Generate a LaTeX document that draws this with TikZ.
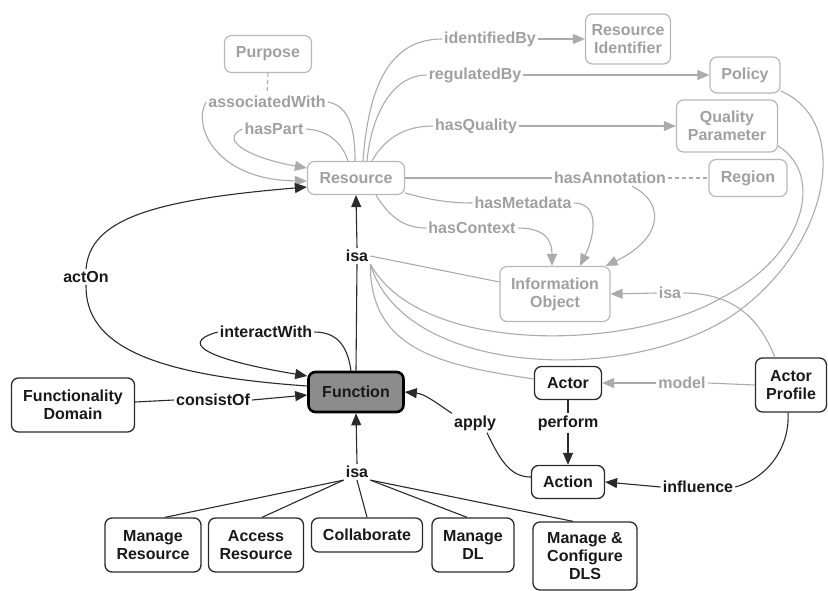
\documentclass[tikz,border=0pt]{standalone}
\usepackage{fontspec}
\setmainfont{Liberation Sans}
\usetikzlibrary{arrows.meta}
\definecolor{gtext}{HTML}{A0A0A0}
\definecolor{gbord}{HTML}{B8B8B8}
\definecolor{gline}{HTML}{ABABAB}
\definecolor{bline}{HTML}{2A2A2A}
\definecolor{fnfill}{HTML}{8C8C8C}
\begin{document}
\begin{tikzpicture}[x=1pt,y=-1pt,
  every node/.style={font=\bfseries\fontsize{16}{18}\selectfont, align=center, inner sep=2pt},
  gbox/.style={draw=gbord, text=gtext, rounded corners=7pt, line width=1.2pt},
  bbox/.style={draw=bline, text=black!90, rounded corners=7pt, line width=1.3pt},
  fbox/.style={draw=black, fill=fnfill, text=black!90, rounded corners=7pt, line width=2.6pt},
  glab/.style={text=gtext},
  blab/.style={text=black!90},
  gedge/.style={draw=gline, line width=1.1pt},
  bedge/.style={draw=bline, line width=1.1pt},
  gdash/.style={draw=gline, line width=1.1pt, dash pattern=on 4pt off 3pt},
  arr/.style={-{Triangle[length=12pt,width=10pt]}},
]
\useasboundingbox (0,0) rectangle (828,590);

% ---- nodes
\node[gbox, minimum width=87, minimum height=37] (purpose) at (268,54) {Purpose};
\node[gbox, minimum width=85, minimum height=50] (rid) at (628,39) {Resource\\Identifier};
\node[gbox, minimum width=70, minimum height=36] (policy) at (745,75) {Policy};
\node[gbox, minimum width=101, minimum height=52] (qp) at (727,126) {Quality\\Parameter};
\node[gbox, minimum width=78, minimum height=37] (region) at (748,178) {Region};
\node[gbox, minimum width=97, minimum height=33] (resource) at (356,178) {Resource};
\node[gbox, minimum width=110, minimum height=55] (io) at (555,294) {Information\\Object};
\node[fbox, minimum width=95, minimum height=40] (function) at (356,392) {Function};
\node[bbox, minimum width=123, minimum height=54] (fd) at (73,405) {Functionality\\Domain};
\node[bbox, minimum width=67, minimum height=33] (actor) at (568,383) {Actor};
\node[bbox, minimum width=71, minimum height=54] (ap) at (791,385) {Actor\\Profile};
\node[bbox, minimum width=73, minimum height=33] (action) at (568,482) {Action};
\node[bbox, minimum width=96, minimum height=54] (mr) at (153,545) {Manage\\Resource};
\node[bbox, minimum width=95, minimum height=54] (ar) at (256,545) {Access\\Resource};
\node[bbox, minimum width=111, minimum height=34] (collab) at (367,535) {Collaborate};
\node[bbox, minimum width=82, minimum height=54] (mdl) at (473,545) {Manage\\DL};
\node[bbox, minimum width=104, minimum height=68] (mcd) at (585,556) {Manage \&\\Configure\\DLS};

% ---- labels
\node[glab] (idby) at (490,39) {identifiedBy};
\node[glab] (regby) at (475,75) {regulatedBy};
\node[glab] (hasq) at (476,126) {hasQuality};
\node[glab] (assoc) at (267,102) {associatedWith};
\node[glab] (haspart) at (274,129) {hasPart};
\node[glab] (hasann) at (610,178) {hasAnnotation};
\node[glab] (hasmeta) at (523,203) {hasMetadata};
\node[glab] (hasctx) at (472,228) {hasContext};
\node[glab] (isag) at (670,293) {isa};
\node[glab] (model) at (682,383) {model};
\node[blab] (isatop) at (357,256) {isa};
\node[blab] (isabot) at (357,472) {isa};
\node[blab] (acton) at (86,277) {actOn};
\node[blab] (interact) at (266,332) {interactWith};
\node[blab] (consist) at (213,400) {consistOf};
\node[blab] (apply) at (475,423) {apply};
\node[blab] (perform) at (568,423) {perform};
\node[blab] (influence) at (698,487) {influence};

% ---- gray connectors
\draw[gedge] ([xshift=7pt]resource.north) .. controls (368,95) and (385,39) .. (idby.west);
\draw[gedge,arr] (idby.east) -- (rid.west);
\draw[gedge] ([xshift=11pt]resource.north) .. controls (372,110) and (395,75) .. (regby.west);
\draw[gedge,arr] (regby.east) -- (policy.west);
\draw[gedge] ([xshift=16pt]resource.north) .. controls (385,138) and (405,126) .. (hasq.west);
\draw[gedge,arr] (hasq.east) -- (qp.west);
\draw[gdash] (purpose.south) -- (assoc.north);
\draw[gedge] (assoc.east) .. controls (350,106) and (355,130) .. ([xshift=-1pt]resource.north);
\draw[gedge,arr] (assoc.west) .. controls (192,125) and (215,180) .. ([yshift=-3pt]resource.west);
\draw[gedge] (haspart.east) .. controls (330,130) and (343,145) .. ([xshift=-8pt]resource.north);
\draw[gedge,arr] (haspart.west) .. controls (218,140) and (250,158) .. ([yshift=10pt]resource.west);
\draw[gedge] (resource.east) -- (hasann.west);
\draw[gdash] (hasann.east) -- (region.west);
\draw[gedge,arr] ([xshift=22pt]hasann.south) .. controls (668,205) and (660,240) .. ([xshift=-5pt]io.north east);
\draw[gedge] (resource.-17) .. controls (430,200) and (450,203) .. (hasmeta.west);
\draw[gedge,arr] (hasmeta.east) .. controls (600,203) and (595,235) .. ([xshift=25pt]io.north);
\draw[gedge] ([xshift=20pt]resource.south) .. controls (390,218) and (405,228) .. (hasctx.west);
\draw[gedge,arr] (hasctx.east) .. controls (545,228) and (552,240) .. ([xshift=-3pt]io.north);
\draw[gedge] ([xshift=-16pt]ap.north) .. controls (760,320) and (735,293) .. (isag.east);
\draw[gedge,arr] (isag.west) -- (io.east);
\draw[gedge] (ap.west) -- (model.east);
\draw[gedge,arr] (model.west) -- (actor.east);
\draw[gedge] (isatop.east) -- ([yshift=12pt]io.west);
\draw[gedge] ([yshift=-20pt]qp.east) .. controls (825,175) and (805,255) .. (723,297)
   .. controls (630,352) and (420,355) .. (isatop.south east);
\draw[gedge] ([yshift=-16pt]policy.east) .. controls (850,120) and (833,240) .. (740,310)
   .. controls (640,385) and (405,380) .. (isatop.south east);
\draw[gedge] (isatop.south east) .. controls (370,350) and (440,365) .. ([yshift=4pt]actor.west);

% ---- black connectors
\draw[bedge,arr] (isatop.north) -- (resource.south);
\draw[bedge] (function.north) -- (isatop.south);
\draw[bedge,arr] (acton.north) .. controls (90,220) and (150,200) .. ([yshift=-9pt]resource.west);
\draw[bedge] (acton.south) .. controls (85,345) and (150,375) .. ([yshift=6pt]function.west);
\draw[bedge] (interact.east) .. controls (340,332) and (348,350) .. ([xshift=-5pt]function.north);
\draw[bedge,arr] (interact.west) .. controls (172,345) and (222,362) .. ([yshift=16pt]function.west);
\draw[bedge] ([yshift=3pt]fd.east) -- (consist.west);
\draw[bedge,arr] (consist.east) -- ([yshift=-3pt]function.west);
\draw[bedge,arr] (apply.north west) .. controls (435,402) and (425,394) .. (function.east);
\draw[bedge] ([xshift=12pt]apply.south) .. controls (500,460) and (510,477) .. ([yshift=5pt]action.west);
\draw[bedge] (actor.south) -- (perform.north);
\draw[bedge,arr] (perform.south) -- (action.north);
\draw[bedge] (influence.east) .. controls (770,477) and (790,445) .. ([xshift=-3pt]ap.south);
\draw[bedge,arr] (influence.west) -- (action.east);
\draw[bedge,arr] (isabot.north) -- (function.south);
\draw[bedge] ([xshift=12pt]mr.north) -- (isabot.south west);
\draw[bedge] ([xshift=6pt]ar.north) -- (isabot.south west);
\draw[bedge] (collab.north) -- (isabot.south);
\draw[bedge] ([xshift=-6pt]mdl.north) -- (isabot.south east);
\draw[bedge] ([xshift=-12pt]mcd.north) -- (isabot.south east);
\end{tikzpicture}
\end{document}
